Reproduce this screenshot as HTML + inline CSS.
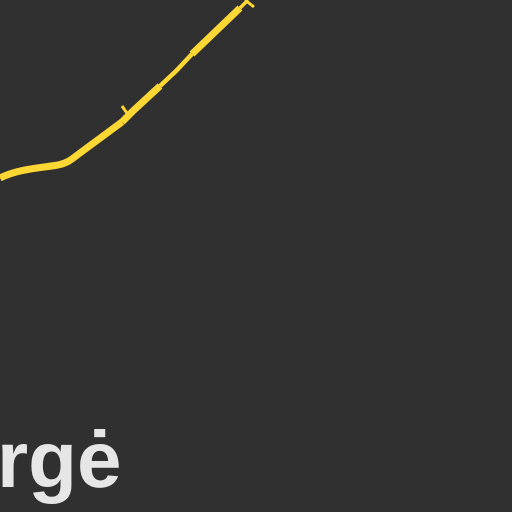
<!DOCTYPE html>
<html><head><meta charset="utf-8"><style>
html,body{margin:0;padding:0;background:#303030;}
svg{display:block;}
</style></head><body>
<svg width="512" height="512" viewBox="0 0 512 512">
<rect width="512" height="512" fill="#303030"/>
<g stroke="#fdd835" fill="none" stroke-linecap="butt">
<path d="M0,178 C18,169 40,168 58,165 C68,163 72,159 80,153 L122,122" stroke-width="7"/>
<path d="M122,122 L134,110 L160,86" stroke-width="7"/>
<path d="M160,86 L176,71 L192,54" stroke-width="4.5"/>
<path d="M192,54 L240,8" stroke-width="7"/>
<path d="M240,8 L248,0" stroke-width="3.5"/>
<path d="M122,106 L129,116" stroke-width="3"/>
<path d="M245,0 L254,7" stroke-width="3"/>
</g>
<text x="-3" y="487" font-family="Liberation Sans, sans-serif" font-weight="bold" font-size="80" fill="#e6e6e6">rgė</text>
</svg>
</body></html>
